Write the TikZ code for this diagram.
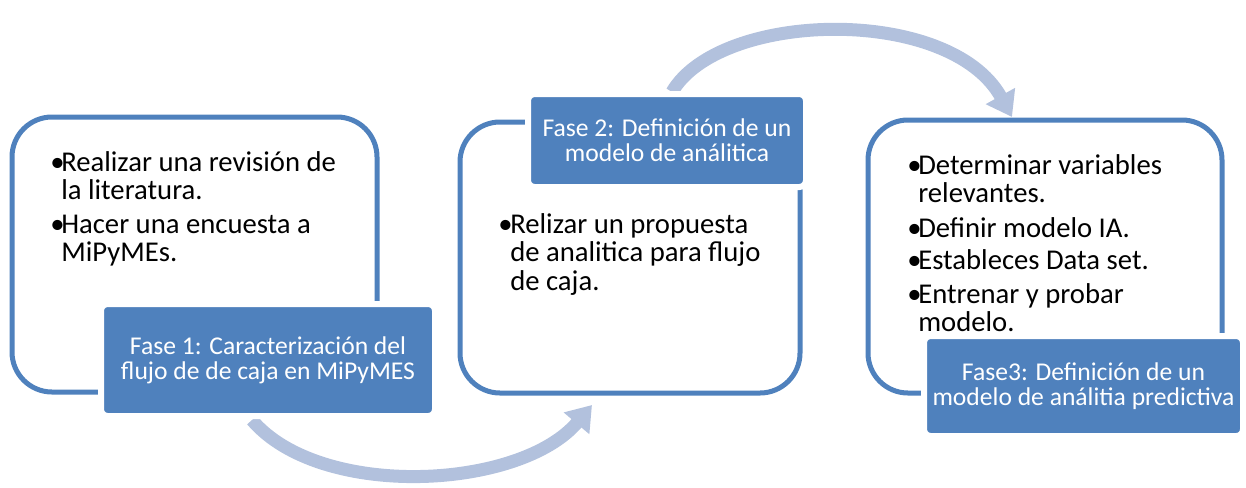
\documentclass[tikz,border=0pt]{standalone}
\usepackage{fontspec}
\setmainfont{Carlito}
\usetikzlibrary{arrows.meta}
\definecolor{accent}{HTML}{4F81BD}
\definecolor{arrowc}{HTML}{B2C1DD}
\begin{document}
\begin{tikzpicture}[x=0.75pt,y=-0.75pt,
  outline/.style={draw=accent, line width=3.75pt, rounded corners=30pt, fill=white, inner sep=0pt},
  phase/.style={fill=accent, draw=white, line width=4.5pt, rounded corners=5pt, text=white, align=center, inner sep=0pt, font=\fontsize{19.2}{18.75}\selectfont},
  bul/.style={font=\fontsize{21.5}{21.375}\selectfont, align=left, anchor=base west, inner sep=0pt},
  flow/.style={draw=arrowc, line width=9.75pt, -{Triangle[length=18pt,width=24pt]}}
]
\useasboundingbox (0,0) rectangle (1246,487);
% flow arrows (behind the boxes)
\coordinate (a1s) at (252,420);
\coordinate (a1e) at (592,405);
\coordinate (a2s) at (672,92);
\coordinate (a2e) at (1012,117);
\draw[flow] (a1s) .. controls (320,500) and (520,490) .. (a1e);
\draw[flow] (a2s) .. controls (720,10) and (950,5) .. (a2e);
% outline boxes
\node[outline, minimum width=273.75pt, minimum height=206.25pt] (o1) at (194.5,254.5) {};
\node[outline, minimum width=255pt, minimum height=203.25pt] (o2) at (630,257.5) {};
\node[outline, minimum width=265.5pt, minimum height=204.75pt] (o3) at (1045,256.5) {};
% phase boxes
\node[phase, minimum width=250.5pt, minimum height=84pt] (p1) at (268,360) {Fase 1: Caracterización del\\flujo de de caja en MiPyMES};
\node[phase, minimum width=208.5pt, minimum height=69.75pt] (p2) at (667,140.5) {Fase 2: Definición de un\\modelo de análitica};
\node[phase, minimum width=239.25pt, minimum height=75pt] (p3) at (1083.5,386) {Fase3: Definición de un\\modelo de análitia predictiva};
% bullets box 1 (text nodes anchored at the baseline of their last line)
\node[bul] (d11) at (50,171) {•};
\node[bul] (t11) at (61,199.5) {Realizar una revisión de\\la literatura.};
\node[bul] (d12) at (50,233) {•};
\node[bul] (t12) at (61,261.5) {Hacer una encuesta a\\MiPyMEs.};
% bullets box 2
\node[bul] (d21) at (498,233) {•};
\node[bul] (t21) at (510,290) {Relizar un propuesta\\de analitica para flujo\\de caja.};
% bullets box 3
\node[bul] (d31) at (907,174) {•};
\node[bul] (t31) at (918,202.5) {Determinar variables\\relevantes.};
\node[bul] (d32) at (907,237) {•};
\node[bul] (t32) at (918,237) {Definir modelo IA.};
\node[bul] (d33) at (907,269) {•};
\node[bul] (t33) at (918,269) {Estableces Data set.};
\node[bul] (d34) at (907,303) {•};
\node[bul] (t34) at (918,331.5) {Entrenar y probar\\modelo.};
\end{tikzpicture}
\end{document}
